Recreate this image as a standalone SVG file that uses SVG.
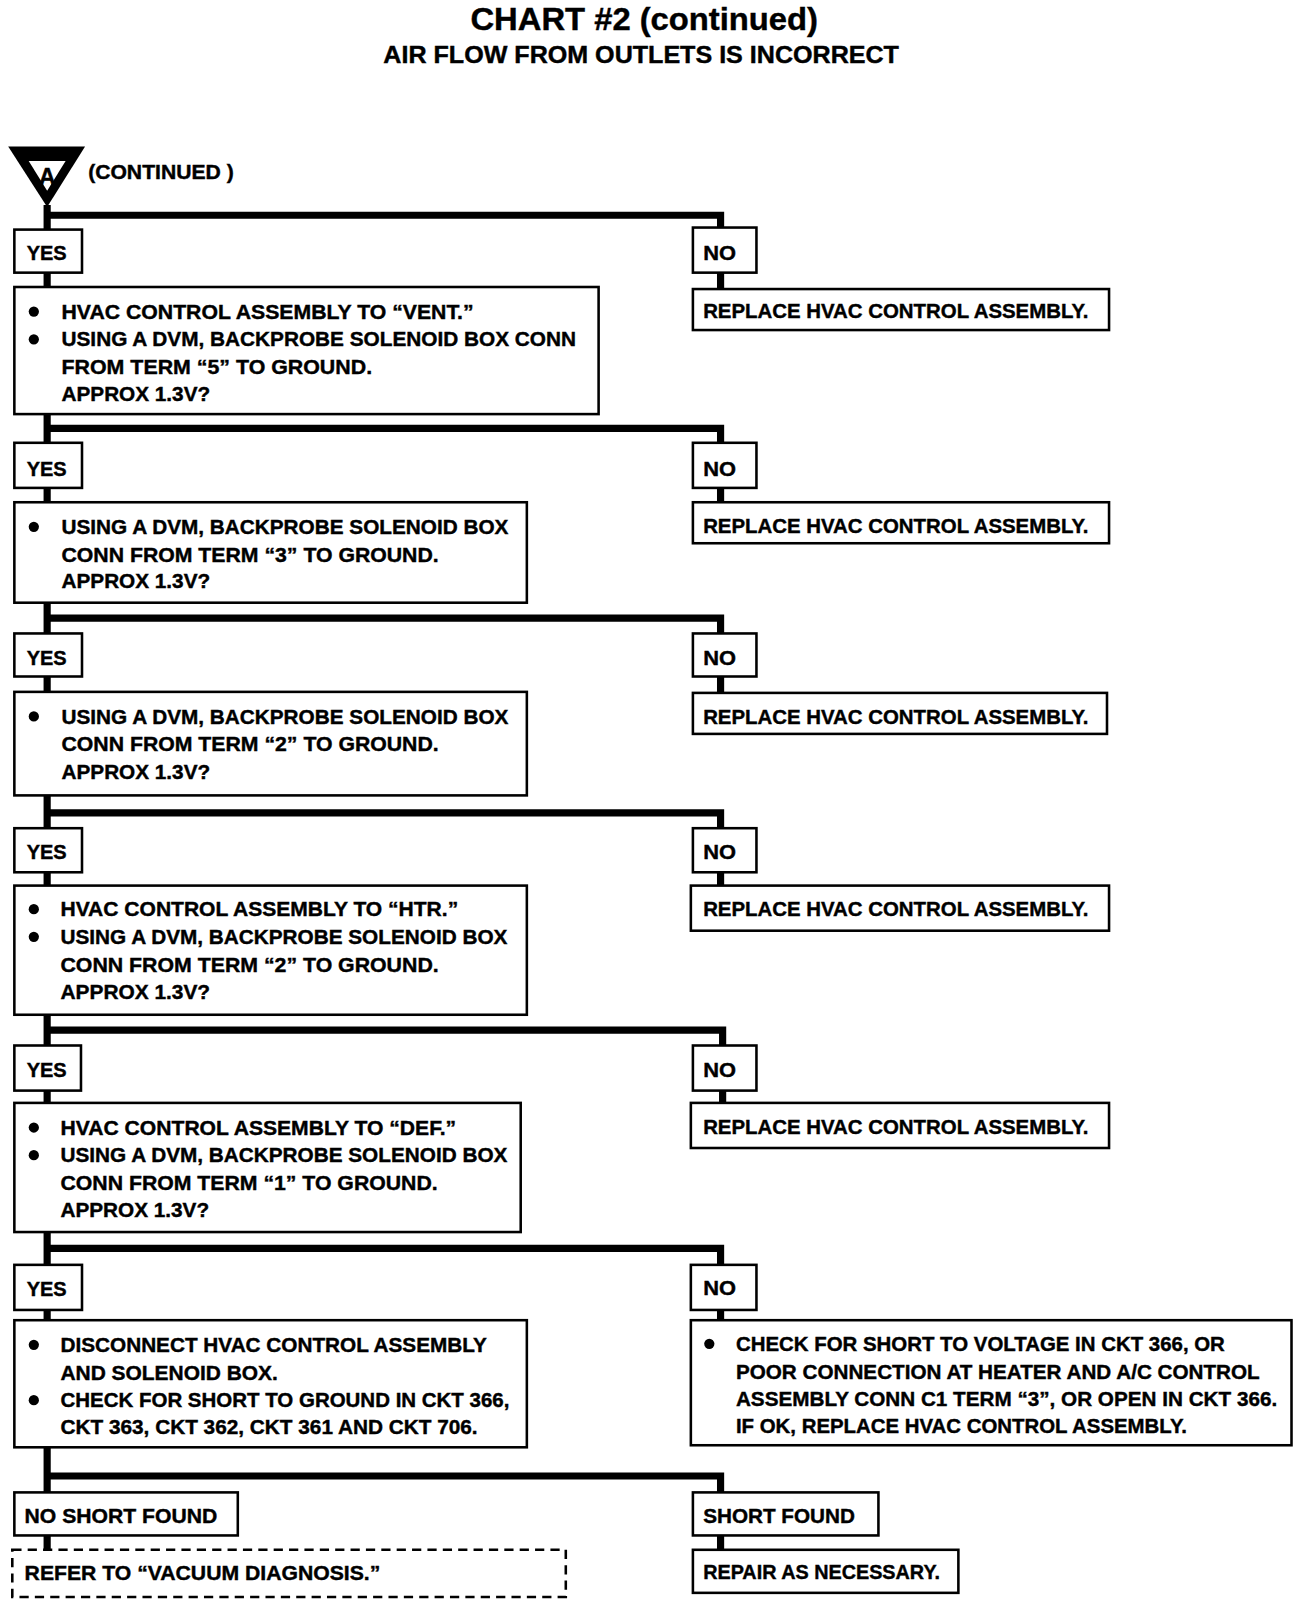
<svg xmlns="http://www.w3.org/2000/svg" width="1312" height="1604" viewBox="0 0 1312 1604">
<style>
.t{font-family:"Liberation Sans",Arial,sans-serif;font-weight:bold;font-size:20px;fill:#000;stroke:#000;stroke-width:0.4}
.box{fill:#fff;stroke:#000;stroke-width:2.5}
.dash{fill:#fff;stroke:#000;stroke-width:2.5;stroke-dasharray:9 6}
.wire{fill:none;stroke:#000;stroke-width:7;stroke-linejoin:miter}
.bul{fill:#000}
</style>
<rect width="1312" height="1604" fill="#fff"/>
<g id="page" transform="scale(1.025)">
<g id="title">
<text class="t" x="459" y="29" style="font-size:31px" textLength="339" lengthAdjust="spacingAndGlyphs">CHART #2 (continued)</text>
<text class="t" x="374" y="61" style="font-size:23px" textLength="503" lengthAdjust="spacingAndGlyphs">AIR FLOW FROM OUTLETS IS INCORRECT</text>
</g>
<g id="connectors">
<path class="wire" d="M46,200 V224 M46,266 V280 M46,404 V432 M46,476 V490 M46,588 V618 M46,660 V675 M46,776 V808 M46,851 V864 M46,990 V1020 M46,1064 V1076 M46,1202 V1234 M46,1278 V1288 M46,1412 V1456 M46,1498 V1512"/>
<path class="wire" d="M46,210 H703 V222 M703,266 V282"/>
<path class="wire" d="M46,418 H703 V432 M703,476 V490"/>
<path class="wire" d="M46,603 H703 V618 M703,660 V676"/>
<path class="wire" d="M46,793 H703 V808 M703,851 V864"/>
<path class="wire" d="M46,1005 H705 V1020 M705,1064 V1076"/>
<path class="wire" d="M46,1218 H703 V1234 M703,1278 V1288"/>
<path class="wire" d="M46,1440 H703 V1456 M703,1498 V1512"/>
</g>
<g id="start">
<polygon points="8,143 83,143 46,202" fill="#000"/>
<polygon points="28,157 64,157 46,186" fill="#fff"/>
<text class="t" x="46" y="180" style="font-size:23px" text-anchor="middle">A</text>
<text class="t" x="86" y="175" style="font-size:19px" textLength="142" lengthAdjust="spacingAndGlyphs">(CONTINUED )</text>
</g>
<g id="yes1"><rect class="box" x="14" y="224" width="66" height="42"/><text class="t" x="26" y="254" textLength="39" lengthAdjust="spacingAndGlyphs">YES</text></g>
<g id="no1"><rect class="box" x="676" y="222" width="62" height="44"/><text class="t" x="686" y="254" textLength="32" lengthAdjust="spacingAndGlyphs">NO</text></g>
<g id="step1">
<rect class="box" x="14" y="280" width="570" height="124"/>
<circle class="bul" cx="33" cy="304" r="5"/><circle class="bul" cx="33" cy="331" r="5"/>
<text class="t" x="60" y="311" textLength="402" lengthAdjust="spacingAndGlyphs">HVAC CONTROL ASSEMBLY TO “VENT.”</text>
<text class="t" x="60" y="338" textLength="502" lengthAdjust="spacingAndGlyphs">USING A DVM, BACKPROBE SOLENOID BOX CONN</text>
<text class="t" x="60" y="365" textLength="303" lengthAdjust="spacingAndGlyphs">FROM TERM “5” TO GROUND.</text>
<text class="t" x="60" y="391" textLength="145" lengthAdjust="spacingAndGlyphs">APPROX 1.3V?</text>
</g>
<g id="replace1"><rect class="box" x="676" y="282" width="406" height="40"/><text class="t" x="686" y="310" textLength="376" lengthAdjust="spacingAndGlyphs">REPLACE HVAC CONTROL ASSEMBLY.</text></g>

<g id="yes2"><rect class="box" x="14" y="432" width="66" height="44"/><text class="t" x="26" y="464" textLength="39" lengthAdjust="spacingAndGlyphs">YES</text></g>
<g id="no2"><rect class="box" x="676" y="432" width="62" height="44"/><text class="t" x="686" y="464" textLength="32" lengthAdjust="spacingAndGlyphs">NO</text></g>
<g id="step2">
<rect class="box" x="14" y="490" width="500" height="98"/>
<circle class="bul" cx="33" cy="514" r="5"/>
<text class="t" x="60" y="521" textLength="436" lengthAdjust="spacingAndGlyphs">USING A DVM, BACKPROBE SOLENOID BOX</text>
<text class="t" x="60" y="548" textLength="368" lengthAdjust="spacingAndGlyphs">CONN FROM TERM “3” TO GROUND.</text>
<text class="t" x="60" y="574" textLength="145" lengthAdjust="spacingAndGlyphs">APPROX 1.3V?</text>
</g>
<g id="replace2"><rect class="box" x="676" y="490" width="406" height="40"/><text class="t" x="686" y="520" textLength="376" lengthAdjust="spacingAndGlyphs">REPLACE HVAC CONTROL ASSEMBLY.</text></g>

<g id="yes3"><rect class="box" x="14" y="618" width="66" height="42"/><text class="t" x="26" y="649" textLength="39" lengthAdjust="spacingAndGlyphs">YES</text></g>
<g id="no3"><rect class="box" x="676" y="618" width="62" height="42"/><text class="t" x="686" y="649" textLength="32" lengthAdjust="spacingAndGlyphs">NO</text></g>
<g id="step3">
<rect class="box" x="14" y="675" width="500" height="101"/>
<circle class="bul" cx="33" cy="699" r="5"/>
<text class="t" x="60" y="706" textLength="436" lengthAdjust="spacingAndGlyphs">USING A DVM, BACKPROBE SOLENOID BOX</text>
<text class="t" x="60" y="733" textLength="368" lengthAdjust="spacingAndGlyphs">CONN FROM TERM “2” TO GROUND.</text>
<text class="t" x="60" y="760" textLength="145" lengthAdjust="spacingAndGlyphs">APPROX 1.3V?</text>
</g>
<g id="replace3"><rect class="box" x="676" y="676" width="404" height="40"/><text class="t" x="686" y="706" textLength="376" lengthAdjust="spacingAndGlyphs">REPLACE HVAC CONTROL ASSEMBLY.</text></g>

<g id="yes4"><rect class="box" x="14" y="808" width="66" height="43"/><text class="t" x="26" y="838" textLength="39" lengthAdjust="spacingAndGlyphs">YES</text></g>
<g id="no4"><rect class="box" x="676" y="808" width="62" height="43"/><text class="t" x="686" y="838" textLength="32" lengthAdjust="spacingAndGlyphs">NO</text></g>
<g id="step4">
<rect class="box" x="14" y="864" width="500" height="126"/>
<circle class="bul" cx="33" cy="887" r="5"/><circle class="bul" cx="33" cy="914" r="5"/>
<text class="t" x="59" y="894" textLength="388" lengthAdjust="spacingAndGlyphs">HVAC CONTROL ASSEMBLY TO “HTR.”</text>
<text class="t" x="59" y="921" textLength="436" lengthAdjust="spacingAndGlyphs">USING A DVM, BACKPROBE SOLENOID BOX</text>
<text class="t" x="59" y="948" textLength="369" lengthAdjust="spacingAndGlyphs">CONN FROM TERM “2” TO GROUND.</text>
<text class="t" x="59" y="975" textLength="146" lengthAdjust="spacingAndGlyphs">APPROX 1.3V?</text>
</g>
<g id="replace4"><rect class="box" x="674" y="864" width="408" height="44"/><text class="t" x="686" y="894" textLength="376" lengthAdjust="spacingAndGlyphs">REPLACE HVAC CONTROL ASSEMBLY.</text></g>

<g id="yes5"><rect class="box" x="14" y="1020" width="65" height="44"/><text class="t" x="26" y="1051" textLength="39" lengthAdjust="spacingAndGlyphs">YES</text></g>
<g id="no5"><rect class="box" x="676" y="1020" width="62" height="44"/><text class="t" x="686" y="1051" textLength="32" lengthAdjust="spacingAndGlyphs">NO</text></g>
<g id="step5">
<rect class="box" x="14" y="1076" width="494" height="126"/>
<circle class="bul" cx="33" cy="1100" r="5"/><circle class="bul" cx="33" cy="1127" r="5"/>
<text class="t" x="59" y="1107" textLength="386" lengthAdjust="spacingAndGlyphs">HVAC CONTROL ASSEMBLY TO “DEF.”</text>
<text class="t" x="59" y="1134" textLength="436" lengthAdjust="spacingAndGlyphs">USING A DVM, BACKPROBE SOLENOID BOX</text>
<text class="t" x="59" y="1161" textLength="368" lengthAdjust="spacingAndGlyphs">CONN FROM TERM “1” TO GROUND.</text>
<text class="t" x="59" y="1187" textLength="145" lengthAdjust="spacingAndGlyphs">APPROX 1.3V?</text>
</g>
<g id="replace5"><rect class="box" x="674" y="1076" width="408" height="44"/><text class="t" x="686" y="1106" textLength="376" lengthAdjust="spacingAndGlyphs">REPLACE HVAC CONTROL ASSEMBLY.</text></g>

<g id="yes6"><rect class="box" x="14" y="1234" width="66" height="44"/><text class="t" x="26" y="1264" textLength="39" lengthAdjust="spacingAndGlyphs">YES</text></g>
<g id="no6"><rect class="box" x="674" y="1234" width="64" height="44"/><text class="t" x="686" y="1263" textLength="32" lengthAdjust="spacingAndGlyphs">NO</text></g>
<g id="step6">
<rect class="box" x="14" y="1288" width="500" height="124"/>
<circle class="bul" cx="33" cy="1312" r="5"/><circle class="bul" cx="33" cy="1366" r="5"/>
<text class="t" x="59" y="1319" textLength="416" lengthAdjust="spacingAndGlyphs">DISCONNECT HVAC CONTROL ASSEMBLY</text>
<text class="t" x="59" y="1346" textLength="212" lengthAdjust="spacingAndGlyphs">AND SOLENOID BOX.</text>
<text class="t" x="59" y="1373" textLength="438" lengthAdjust="spacingAndGlyphs">CHECK FOR SHORT TO GROUND IN CKT 366,</text>
<text class="t" x="59" y="1399" textLength="407" lengthAdjust="spacingAndGlyphs">CKT 363, CKT 362, CKT 361 AND CKT 706.</text>
</g>
<g id="check6">
<rect class="box" x="674" y="1288" width="586" height="122"/>
<circle class="bul" cx="692" cy="1311" r="5"/>
<text class="t" x="718" y="1318" textLength="477" lengthAdjust="spacingAndGlyphs">CHECK FOR SHORT TO VOLTAGE IN CKT 366, OR</text>
<text class="t" x="718" y="1345" textLength="511" lengthAdjust="spacingAndGlyphs">POOR CONNECTION AT HEATER AND A/C CONTROL</text>
<text class="t" x="718" y="1372" textLength="528" lengthAdjust="spacingAndGlyphs">ASSEMBLY CONN C1 TERM “3”, OR OPEN IN CKT 366.</text>
<text class="t" x="718" y="1398" textLength="440" lengthAdjust="spacingAndGlyphs">IF OK, REPLACE HVAC CONTROL ASSEMBLY.</text>
</g>

<g id="noshort"><rect class="box" x="14" y="1456" width="218" height="42"/><text class="t" x="24" y="1486" textLength="188" lengthAdjust="spacingAndGlyphs">NO SHORT FOUND</text></g>
<g id="refer"><rect class="dash" x="12" y="1512" width="540" height="46"/><text class="t" x="24" y="1541" textLength="347" lengthAdjust="spacingAndGlyphs">REFER TO “VACUUM DIAGNOSIS.”</text></g>
<g id="short"><rect class="box" x="676" y="1456" width="181" height="42"/><text class="t" x="686" y="1486" textLength="148" lengthAdjust="spacingAndGlyphs">SHORT FOUND</text></g>
<g id="repair"><rect class="box" x="676" y="1512" width="259" height="42"/><text class="t" x="686" y="1540" textLength="231" lengthAdjust="spacingAndGlyphs">REPAIR AS NECESSARY.</text></g>
</g>
</svg>
